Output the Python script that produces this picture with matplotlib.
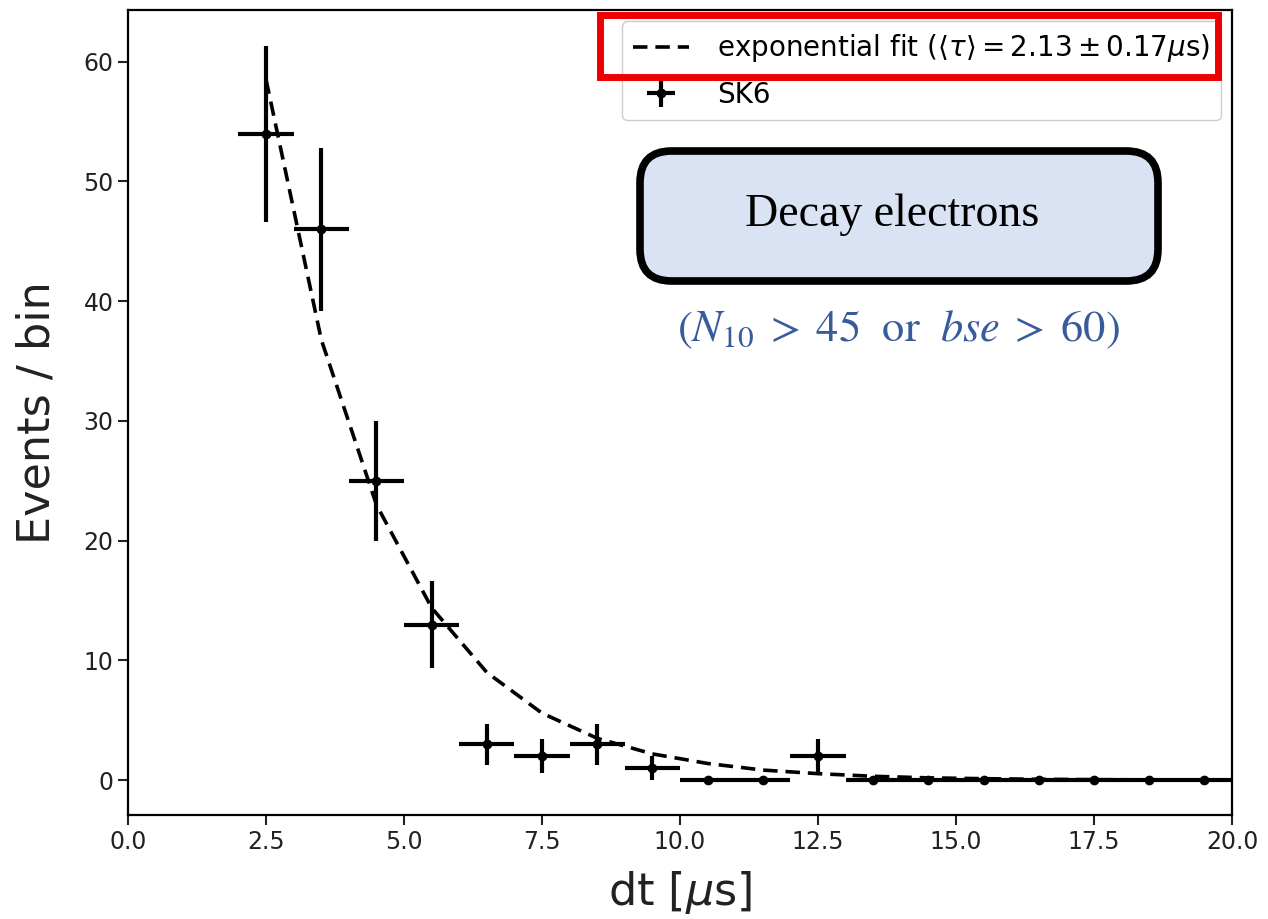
import matplotlib
matplotlib.use("Agg")
import matplotlib.pyplot as plt
from matplotlib.patches import FancyBboxPatch, Rectangle

# Decay-time histogram (bin centres in microseconds)
bin_centers = [2.5, 3.5, 4.5, 5.5, 6.5, 7.5, 8.5, 9.5, 10.5, 11.5,
               12.5, 13.5, 14.5, 15.5, 16.5, 17.5, 18.5, 19.5]
events = [54, 46, 25, 13, 3, 2, 3, 1, 0, 0, 2, 0, 0, 0, 0, 0, 0, 0]
events_err = [7.35, 6.78, 5.0, 3.61, 1.73, 1.41, 1.73, 1.0, 0, 0,
              1.41, 0, 0, 0, 0, 0, 0, 0]
bin_half_width = [0.5] * len(bin_centers)

# Exponential fit evaluated at the bin centres
fit_values = [58.5, 36.8, 23.0, 14.4, 9.0, 5.6, 3.5, 2.2, 1.4, 0.85,
              0.55, 0.33, 0.2, 0.13, 0.08, 0.05, 0.03, 0.02]

fit_label = r"exponential fit ($\langle\tau\rangle = 2.13 \pm 0.17 \mu$s)"
data_label = "SK6"

fig = plt.figure(figsize=(12.68, 9.19), dpi=100)
ax = fig.add_axes([0.101, 0.1132, 0.8706, 0.8757])

ax.plot(bin_centers, fit_values, ls="--", color="black", lw=2.6,
        dashes=(4, 2.2), label=fit_label, zorder=2)
ax.errorbar(bin_centers, events, xerr=bin_half_width, yerr=events_err,
            fmt="o", color="black", ms=6, elinewidth=3, capsize=0,
            label=data_label, zorder=3)

ax.set_xlim(0, 20)
ax.set_ylim(-2.9, 64.3)
ax.set_xticks([0, 2.5, 5, 7.5, 10, 12.5, 15, 17.5, 20])
ax.set_yticks([0, 10, 20, 30, 40, 50, 60])
ax.tick_params(labelsize=17, length=7, width=1.5, color="#222222",
               labelcolor="#222222")
for s in ax.spines.values():
    s.set_linewidth(1.6)

ax.set_xlabel(r"dt [$\mu$s]", fontsize=32, labelpad=11, color="#222222")
ax.set_ylabel("Events / bin", fontsize=32, labelpad=18, color="#222222")

leg = ax.legend(loc="upper right", fontsize=20, frameon=True,
                borderaxespad=0.4, handlelength=2.0, labelspacing=0.6,
                handletextpad=1.0, borderpad=0.4, fancybox=True,
                framealpha=1.0, edgecolor="#cccccc")

# Highlight frame around the fit entry
fig.add_artist(Rectangle((600 / 1268, 1 - 77 / 919), 618 / 1268, 62 / 919,
                         transform=fig.transFigure, fill=False,
                         edgecolor="#ee0000", lw=5, zorder=10))

# Rounded caption box
box = FancyBboxPatch((640 / 1268, 1 - 281 / 919), 518 / 1268, 130 / 919,
                     boxstyle="round,pad=0,rounding_size=0.025",
                     transform=fig.transFigure, facecolor="#dae3f3",
                     edgecolor="black", lw=5.5, zorder=10,
                     mutation_aspect=1268 / 919)
fig.add_artist(box)
fig.text(892 / 1268, 1 - 215 / 919, "Decay electrons", ha="center",
         va="center", fontsize=33, family="Liberation Serif", zorder=11)

fig.text(898 / 1268, 1 - 330 / 919,
         r"$(N_{10}\;>\;45\ \ \mathrm{or}\ \ bse\;>\;60)$",
         ha="center", va="center",
         fontsize=32, math_fontfamily="stix", color="#3a5b9b", zorder=11)

fig.savefig("out.png", dpi=100)
